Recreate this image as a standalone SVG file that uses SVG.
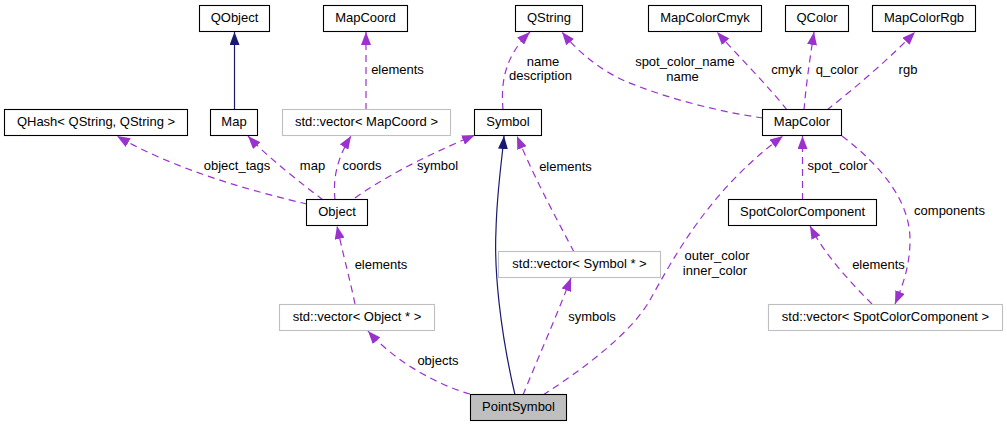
<svg xmlns="http://www.w3.org/2000/svg" width="1007" height="427" viewBox="0 0 1007 427">
<defs>
<style>
text{font-family:"Liberation Sans",Arial,sans-serif;font-size:13px;fill:#000;text-anchor:middle}
.n{fill:#fff;stroke:#000;stroke-width:1.1}
.g{fill:#fff;stroke:#bfbfbf;stroke-width:1.1}
.r{fill:#bfbfbf;stroke:#000;stroke-width:1.1}
.d{fill:none;stroke:#9a32cd;stroke-width:1.2;stroke-dasharray:7,5;marker-end:url(#ap)}
.s{fill:none;stroke:#191970;stroke-width:1.2;marker-end:url(#an)}
</style>
<marker id="ap" markerUnits="userSpaceOnUse" viewBox="0 0 13 10" markerWidth="13" markerHeight="10" refX="13" refY="5" orient="auto"><path d="M0,0 L13,5 L0,10 z" fill="#9a32cd"/></marker>
<marker id="an" markerUnits="userSpaceOnUse" viewBox="0 0 13 10" markerWidth="13" markerHeight="10" refX="13" refY="5" orient="auto"><path d="M0,0 L13,5 L0,10 z" fill="#191970"/></marker>
</defs>
<rect width="1007" height="427" fill="#fff"/>
<g id="connectors">
<path class="s" d="M234.5,110 L234.5,32"/>
<path class="d" d="M307,204 C255,192 175,170 117,136"/>
<path class="d" d="M323,200 C305,186 268,158 248,136"/>
<path class="d" d="M335,200 C333,180 336,160 351,136"/>
<path class="d" d="M355,198 C380,180 420,158 475,135"/>
<path class="d" d="M366,110 L366,32"/>
<path class="d" d="M503,110 C501,85 503,58 530,32"/>
<path class="d" d="M763,118 C720,112 665,98 625,81 C600,70 578,52 562,32"/>
<path class="d" d="M787,110 C770,88 740,58 717,32"/>
<path class="d" d="M804,110 C806,85 810,58 814,32"/>
<path class="d" d="M827,110 C855,88 890,58 915,32"/>
<path class="d" d="M802.5,200 L802.5,136"/>
<path class="d" d="M842,136 C880,165 910,200 910,240 C910,265 903,285 895,304"/>
<path class="d" d="M872,304 C850,282 825,255 810,226"/>
<path class="d" d="M355,304 C350,280 342,250 337,226"/>
<path class="d" d="M574,252 C560,225 535,180 517,136"/>
<path class="d" d="M470,394 C440,386 395,362 368,331"/>
<path class="d" d="M523,395 C535,365 555,320 571,278"/>
<path class="s" d="M515,395 C500,330 494,270 496,230 C497,190 502,160 504,136"/>
<path class="d" d="M543,395 C585,368 632,332 650,300 C675,255 710,190 783,136"/>
<text x="237" y="170">object_tags</text>
<text x="312.5" y="170">map</text>
<text x="362" y="170">coords</text>
<text x="437.5" y="170">symbol</text>
<text x="397.5" y="74">elements</text>
<text x="543" y="66">name</text>
<text x="540.5" y="80">description</text>
<text x="565.5" y="171">elements</text>
<text x="685" y="66">spot_color_name</text>
<text x="682.5" y="80.5">name</text>
<text x="786.5" y="74">cmyk</text>
<text x="837" y="74">q_color</text>
<text x="908" y="74">rgb</text>
<text x="837.5" y="170">spot_color</text>
<text x="949.5" y="215">components</text>
<text x="717" y="260">outer_color</text>
<text x="715" y="274.5">inner_color</text>
<text x="878.5" y="269">elements</text>
<text x="381" y="269">elements</text>
<text x="592" y="321">symbols</text>
<text x="438" y="365">objects</text>
</g>
<g id="QObject"><rect class="n" x="199.5" y="5.5" width="70" height="26"/><text x="234.5" y="21.5">QObject</text></g>
<g id="MapCoord"><rect class="n" x="323.5" y="5.5" width="84" height="26"/><text x="365.5" y="21.5">MapCoord</text></g>
<g id="QString"><rect class="n" x="515.5" y="5.5" width="67" height="26"/><text x="549" y="21.5">QString</text></g>
<g id="MapColorCmyk"><rect class="n" x="648.5" y="5.5" width="113" height="26"/><text x="705" y="21.5">MapColorCmyk</text></g>
<g id="QColor"><rect class="n" x="785.5" y="5.5" width="63" height="26"/><text x="817" y="21.5">QColor</text></g>
<g id="MapColorRgb"><rect class="n" x="872.5" y="5.5" width="103" height="26"/><text x="924" y="21.5">MapColorRgb</text></g>
<g id="QHash"><rect class="n" x="4.5" y="109.5" width="183" height="26"/><text x="96" y="125.5">QHash&lt; QString, QString &gt;</text></g>
<g id="Map"><rect class="n" x="210.5" y="109.5" width="47" height="26"/><text x="234" y="125.5">Map</text></g>
<g id="VectorMapCoord"><rect class="g" x="282.5" y="109.5" width="168" height="26"/><text x="366.5" y="125.5">std::vector&lt; MapCoord &gt;</text></g>
<g id="Symbol"><rect class="n" x="474.5" y="109.5" width="67" height="26"/><text x="508" y="125.5">Symbol</text></g>
<g id="MapColor"><rect class="n" x="762.5" y="109.5" width="79" height="26"/><text x="802" y="125.5">MapColor</text></g>
<g id="Object"><rect class="n" x="306.5" y="199.5" width="61" height="26"/><text x="337" y="215.5">Object</text></g>
<g id="SpotColorComponent"><rect class="n" x="728.5" y="199.5" width="148" height="26"/><text x="802.5" y="215.5">SpotColorComponent</text></g>
<g id="VectorSymbol"><rect class="g" x="498.5" y="251.5" width="162" height="26"/><text x="579.5" y="267.5">std::vector&lt; Symbol * &gt;</text></g>
<g id="VectorObject"><rect class="g" x="279.5" y="304.5" width="155" height="26"/><text x="357" y="320.5">std::vector&lt; Object * &gt;</text></g>
<g id="VectorSpotColorComponent"><rect class="g" x="768.5" y="304.5" width="234" height="26"/><text x="885.5" y="320.5">std::vector&lt; SpotColorComponent &gt;</text></g>
<g id="PointSymbol"><rect class="r" x="470.5" y="394.5" width="96" height="26"/><text x="518.5" y="410.5">PointSymbol</text></g>
</svg>
